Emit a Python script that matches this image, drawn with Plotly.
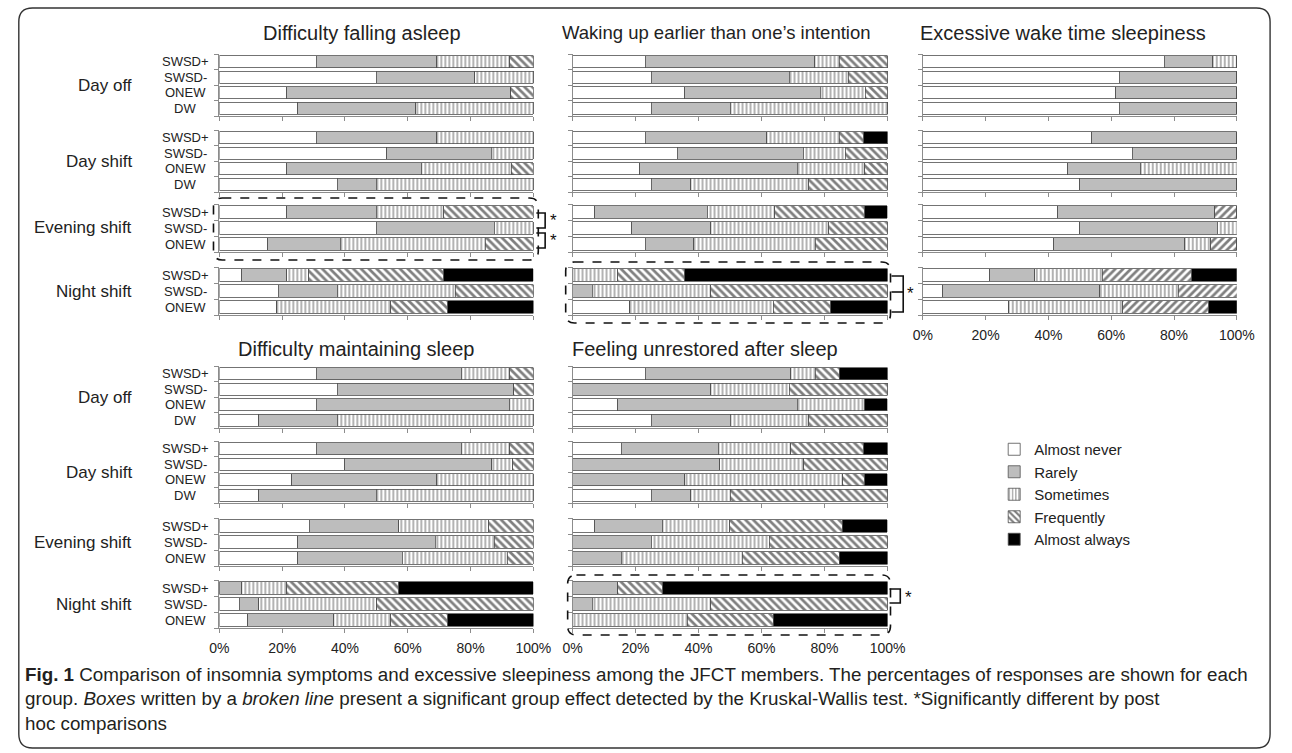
import plotly.graph_objects as go

W, H = 1292, 753

# ---------------- data ----------------
RESPONSES = ["Almost never", "Rarely", "Sometimes", "Frequently", "Almost always"]
GROUPS = ["Day off", "Day shift", "Evening shift", "Night shift"]
SUB_4 = ["SWSD+", "SWSD-", "ONEW", "DW"]
SUB_3 = ["SWSD+", "SWSD-", "ONEW"]
X_TICKS = [0, 20, 40, 60, 80, 100]
X_TICK_TEXT = ["0%", "20%", "40%", "60%", "80%", "100%"]
TITLES = ["Difficulty falling asleep", "Waking up earlier than one\u2019s intention",
          "Excessive wake time sleepiness", "Difficulty maintaining sleep",
          "Feeling unrestored after sleep"]

# each row: % Almost never, Rarely, Sometimes, Frequently, Almost always
falling_day_off = [[30.8, 38.5, 23.1, 7.7, 0], [50.0, 31.3, 18.8, 0, 0], [21.4, 71.4, 0, 7.1, 0], [25.0, 37.5, 37.5, 0, 0]]
falling_day_shift = [[30.8, 38.5, 30.8, 0, 0], [53.3, 33.3, 13.3, 0, 0], [21.4, 42.9, 28.6, 7.1, 0], [37.5, 12.5, 50.0, 0, 0]]
falling_evening = [[21.4, 28.6, 21.4, 28.6, 0], [50.0, 37.5, 12.5, 0, 0], [15.4, 23.1, 46.2, 15.4, 0]]
falling_night = [[7.1, 14.3, 7.1, 42.9, 28.6], [18.8, 18.8, 37.5, 25.0, 0], [18.2, 0, 36.4, 18.2, 27.3]]

waking_day_off = [[23.1, 53.8, 7.7, 15.4, 0], [25.0, 43.8, 18.8, 12.5, 0], [35.7, 42.9, 14.3, 7.1, 0], [25.0, 25.0, 50.0, 0, 0]]
waking_day_shift = [[23.1, 38.5, 23.1, 7.7, 7.7], [33.3, 40.0, 13.3, 13.3, 0], [21.4, 50.0, 21.4, 7.1, 0], [25.0, 12.5, 37.5, 25.0, 0]]
waking_evening = [[7.1, 35.7, 21.4, 28.6, 7.1], [18.8, 25.0, 37.5, 18.8, 0], [23.1, 15.4, 38.5, 23.1, 0]]
waking_night = [[0, 0, 14.3, 21.4, 64.3], [0, 6.3, 37.5, 56.3, 0], [18.2, 0, 45.5, 18.2, 18.2]]

sleepy_day_off = [[76.9, 15.4, 7.7, 0, 0], [62.5, 37.5, 0, 0, 0], [61.5, 38.5, 0, 0, 0], [62.5, 37.5, 0, 0, 0]]
sleepy_day_shift = [[53.8, 46.2, 0, 0, 0], [66.7, 33.3, 0, 0, 0], [46.2, 23.1, 30.8, 0, 0], [50.0, 50.0, 0, 0, 0]]
sleepy_evening = [[42.9, 50.0, 0, 7.1, 0], [50.0, 43.8, 6.3, 0, 0], [41.7, 41.7, 8.3, 8.3, 0]]
sleepy_night = [[21.4, 14.3, 21.4, 28.6, 14.3], [6.3, 50.0, 25.0, 18.8, 0], [27.3, 0, 36.4, 27.3, 9.1]]

maint_day_off = [[30.8, 46.2, 15.4, 7.7, 0], [37.5, 56.3, 0, 6.3, 0], [30.8, 61.5, 7.7, 0, 0], [12.5, 25.0, 62.5, 0, 0]]
maint_day_shift = [[30.8, 46.2, 15.4, 7.7, 0], [40.0, 46.7, 6.7, 6.7, 0], [23.1, 46.2, 30.8, 0, 0], [12.5, 37.5, 50.0, 0, 0]]
maint_evening = [[28.6, 28.6, 28.6, 14.3, 0], [25.0, 43.8, 18.8, 12.5, 0], [25.0, 33.3, 33.3, 8.3, 0]]
maint_night = [[0, 7.1, 14.3, 35.7, 42.9], [6.3, 6.3, 37.5, 50.0, 0], [9.1, 27.3, 18.2, 18.2, 27.3]]

unrest_day_off = [[23.1, 46.2, 7.7, 7.7, 15.4], [0, 43.8, 25.0, 31.3, 0], [14.3, 57.1, 21.4, 0, 7.1], [25.0, 25.0, 25.0, 25.0, 0]]
unrest_day_shift = [[15.4, 30.8, 23.1, 23.1, 7.7], [0, 46.7, 26.7, 26.7, 0], [0, 35.7, 50.0, 7.1, 7.1], [25.0, 12.5, 12.5, 50.0, 0]]
unrest_evening = [[7.1, 21.4, 21.4, 35.7, 14.3], [0, 25.0, 37.5, 37.5, 0], [0, 15.4, 38.5, 30.8, 15.4]]
unrest_night = [[0, 14.3, 0, 14.3, 71.4], [0, 6.3, 37.5, 56.3, 0], [0, 0, 36.4, 27.3, 36.4]]

PANEL_DATA = [
    [falling_day_off, falling_day_shift, falling_evening, falling_night],
    [waking_day_off, waking_day_shift, waking_evening, waking_night],
    [sleepy_day_off, sleepy_day_shift, sleepy_evening, sleepy_night],
    [maint_day_off, maint_day_shift, maint_evening, maint_night],
    [unrest_day_off, unrest_day_shift, unrest_evening, unrest_night],
]

# ---------------- layout constants (pixels) ----------------
PANEL_X = [(214, 535), (575, 897), (933, 1254), (214, 535), (575, 897)]
PANEL_ROW = [0, 0, 0, 1, 1]
ROW_GROUP_Y = [[(54, 116), (130, 192), (204, 252), (267, 315)],
               [(366, 428), (441, 503), (518, 566), (580, 628)]]
TITLE_POS = [(360, 33), (722, 33), (1076, 33), (354, 349), (710, 349)]
TITLE_SIZE = [20, 18.5, 20, 20, 20]
FONT = "Liberation Sans, Arial, sans-serif"

FILL_COLORS = ["#ffffff", "#bdbdbd", "#ffffff", "#ffffff", "#000000"]


def pxx(x):
    return x / W


def pyy(y):
    return 1 - y / H


def pattern_for(r, panel):
    if r == 2:
        return dict(shape="|", size=4, solidity=0.3, fgcolor="#000000", bgcolor="#ffffff")
    if r == 3:
        return dict(shape="/" if panel == 2 else "\\", size=5.5, solidity=0.5,
                    fgcolor="#000000", bgcolor="#ffffff")
    return dict(shape="")


fig = go.Figure()
layout = {}
annotations = []
shapes = []

k = 0
for p, groups in enumerate(PANEL_DATA):
    x0, x1 = PANEL_X[p]
    row = PANEL_ROW[p]
    for g, data in enumerate(groups):
        k += 1
        y0, y1 = ROW_GROUP_Y[row][g]
        n = len(data)
        subs = SUB_4 if n == 4 else SUB_3
        xa = "xaxis" if k == 1 else f"xaxis{k}"
        ya = "yaxis" if k == 1 else f"yaxis{k}"
        xr = "x" if k == 1 else f"x{k}"
        yr = "y" if k == 1 else f"y{k}"
        is_bottom = (g == 3) and (p >= 2)
        layout[xa] = dict(domain=[pxx(x0), pxx(x1)], anchor=yr, range=[0, 100],
                          tickmode="array", tickvals=X_TICKS, ticktext=X_TICK_TEXT,
                          ticks="outside", ticklen=4, tickcolor="#8c8c8c",
                          showline=True, linecolor="#8c8c8c", linewidth=1,
                          showgrid=False, zeroline=False, showticklabels=is_bottom,
                          ticklabelstandoff=3,
                          tickfont=dict(family=FONT, size=14, color="#222"),
                          fixedrange=True)
        layout[ya] = dict(domain=[pyy(y1), pyy(y0)], anchor=xr, range=[n - 0.5, -0.5],
                          tickvals=[i - 0.5 for i in range(n + 1)], ticks="outside",
                          ticklen=4, tickcolor="#8c8c8c", showline=True, linecolor="#8c8c8c",
                          linewidth=1, showgrid=False, zeroline=False, showticklabels=False,
                          fixedrange=True)
        for r, resp in enumerate(RESPONSES):
            fig.add_trace(go.Bar(
                x=[row_vals[r] for row_vals in data], y=list(range(n)), orientation="h",
                xaxis=xr, yaxis=yr, name=resp, legendgroup=resp, showlegend=(k == 1),
                marker=dict(color=FILL_COLORS[r], pattern=pattern_for(r, p),
                            line=dict(color="#505050", width=0.8)),
                hoverinfo="skip"))
        # row labels only on the left-hand panels
        if p in (0, 3):
            for i, s in enumerate(subs):
                annotations.append(dict(x=pxx(179), y=i, xref="paper", yref=yr, text=s,
                                        showarrow=False, xanchor="center", yanchor="middle",
                                        font=dict(family=FONT, size=13, color="#222")))
            annotations.append(dict(x=pxx(127), y=pyy((y0 + y1) / 2), xref="paper", yref="paper",
                                    text=GROUPS[g], showarrow=False, xanchor="right",
                                    yanchor="middle", font=dict(family=FONT, size=17, color="#222")))
    tx, ty = TITLE_POS[p]
    annotations.append(dict(x=pxx(tx), y=pyy(ty), xref="paper", yref="paper", text=TITLES[p],
                            showarrow=False, xanchor="center", yanchor="middle",
                            font=dict(family=FONT, size=TITLE_SIZE[p], color="#222")))


def rrect(x0, y0, x1, y1, r):
    pts = [
        f"M{pxx(x0 + r)},{pyy(y0)}", f"L{pxx(x1 - r)},{pyy(y0)}",
        f"Q{pxx(x1)},{pyy(y0)} {pxx(x1)},{pyy(y0 + r)}", f"L{pxx(x1)},{pyy(y1 - r)}",
        f"Q{pxx(x1)},{pyy(y1)} {pxx(x1 - r)},{pyy(y1)}", f"L{pxx(x0 + r)},{pyy(y1)}",
        f"Q{pxx(x0)},{pyy(y1)} {pxx(x0)},{pyy(y1 - r)}", f"L{pxx(x0)},{pyy(y0 + r)}",
        f"Q{pxx(x0)},{pyy(y0)} {pxx(x0 + r)},{pyy(y0)}", "Z"]
    return " ".join(pts)


def poly(points):
    return "M" + " L".join(f"{pxx(x)},{pyy(y)}" for x, y in points)


# outer frame
shapes.append(dict(type="path", xref="paper", yref="paper", path=rrect(9, 8, 1288, 748, 14),
                   line=dict(color="#333", width=1.4)))
# significance boxes (broken line)
for bx in [(208, 198, 540, 260), (568, 262, 900, 323), (570, 575, 900, 635)]:
    shapes.append(dict(type="path", xref="paper", yref="paper", path=rrect(*bx, 9),
                       line=dict(color="#111", width=1.6, dash="dash")))
# post hoc brackets
brackets = [
    [(538, 213), (547, 213), (547, 228), (538, 228)],
    [(538, 233), (547, 233), (547, 248), (538, 248)],
    [(901, 276), (913, 276), (913, 312), (901, 312)],
    [(901, 292), (913, 292)],
    [(899, 589), (910, 589), (910, 603), (899, 603)],
]
for b in brackets:
    shapes.append(dict(type="path", xref="paper", yref="paper", path=poly(b),
                       line=dict(color="#111", width=1.6)))
for sx, sy in [(556, 221), (556, 241), (920, 293), (918, 597)]:
    annotations.append(dict(x=pxx(sx), y=pyy(sy), xref="paper", yref="paper", text="*",
                            showarrow=False, xanchor="center", yanchor="middle",
                            font=dict(family=FONT, size=17, color="#111")))

# caption
CAPTION = [
    "<b>Fig. 1</b> Comparison of insomnia symptoms and excessive sleepiness among the JFCT members. "
    "The percentages of responses are shown for each",
    "group. <i>Boxes</i> written by a <i>broken line</i> present a significant group effect detected "
    "by the Kruskal-Wallis test. *Significantly different by post",
    "hoc comparisons",
]
for i, line in enumerate(CAPTION):
    annotations.append(dict(x=pxx(13), y=pyy(674 + 24.5 * i), xref="paper", yref="paper",
                            text=line, showarrow=False, xanchor="left", yanchor="middle",
                            font=dict(family=FONT, size=18.8, color="#231f20")))

fig.update_layout(
    width=W, height=H, margin=dict(l=0, r=0, t=0, b=0), autosize=False,
    paper_bgcolor="white", plot_bgcolor="white",
    barmode="stack", bargap=0.22,
    showlegend=True,
    legend=dict(x=pxx(1006), y=pyy(433), xanchor="left", yanchor="top",
                font=dict(family=FONT, size=15, color="#222"), bgcolor="rgba(0,0,0,0)",
                itemwidth=30, tracegroupgap=0),
    annotations=annotations, shapes=shapes,
    **layout,
)

fig.write_html("out.html")
